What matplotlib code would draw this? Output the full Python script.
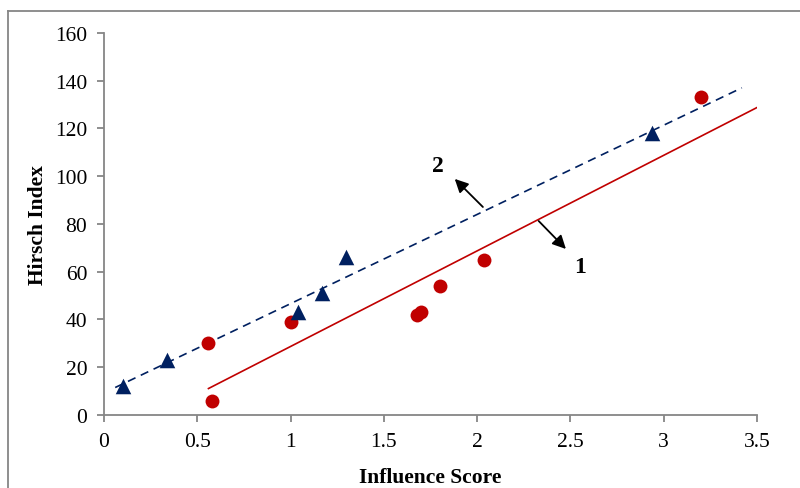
import numpy as np
import matplotlib
matplotlib.use("Agg")
import matplotlib.pyplot as plt
from matplotlib.lines import Line2D

plt.rcParams['font.family'] = ['Liberation Serif', 'DejaVu Serif']

# series 1 (red circles)
x1 = [0.56, 0.58, 1.00, 1.68, 1.70, 1.80, 2.04, 3.20]
y1 = [30, 6, 39, 42, 43, 54, 65, 133]
# series 2 (blue triangles)
x2 = [0.10, 0.34, 1.04, 1.17, 1.30, 2.94]
y2 = [12, 23, 43, 51, 66, 118]

# trend line extents
line1_range = [0.56, 3.5]
line2_range = [0.06, 3.42]

x_ticks = [0, 0.5, 1, 1.5, 2, 2.5, 3, 3.5]
x_labels = ['0', '0.5', '1', '1.5', '2', '2.5', '3', '3.5']
y_ticks = [0, 20, 40, 60, 80, 100, 120, 140, 160]

red = '#C00000'
navy = '#002060'
gray = '#868686'

fig = plt.figure(figsize=(8, 4.89), dpi=100)
ax = fig.add_axes([0.13, 0.1493, 0.816, 0.7812])

p1 = np.polyfit(x1, y1, 1)
p2 = np.polyfit(x2, y2, 1)
xs1 = np.array(line1_range)
xs2 = np.array(line2_range)
ax.plot(xs1, np.polyval(p1, xs1), color=red, lw=1.2, zorder=2)
ax.plot(xs2, np.polyval(p2, xs2), color=navy, lw=1.2, dashes=(5, 3.5), zorder=2)

ax.scatter(x1, y1, s=100, color=red, marker='o', zorder=3, linewidths=0)
ax.scatter(x2, y2, s=125, color=navy, marker='^', zorder=3, linewidths=0)

ax.annotate('', xy=(1.87, 99.7), xytext=(2.042, 86.3),
            arrowprops=dict(arrowstyle='-|>', color='black', lw=1.3, mutation_scale=20))
ax.text(1.79, 104.3, '2', fontsize=17, fontweight='bold', ha='center', va='center')
ax.annotate('', xy=(2.487, 68.7), xytext=(2.32, 82.1),
            arrowprops=dict(arrowstyle='-|>', color='black', lw=1.3, mutation_scale=20))
ax.text(2.55, 62.4, '1', fontsize=17, fontweight='bold', ha='center', va='center')

ax.set_xlim(0, 3.5)
ax.set_ylim(0, 160)
ax.set_xticks(x_ticks)
ax.set_xticklabels(x_labels)
ax.set_yticks(y_ticks)
for s in ['top', 'right']:
    ax.spines[s].set_visible(False)
for s in ['left', 'bottom']:
    ax.spines[s].set_color(gray)
    ax.spines[s].set_linewidth(1.3)
ax.tick_params(axis='both', direction='out', length=5, width=1.3, color=gray,
               labelsize=15.5, labelcolor='black', pad=7)
ax.set_xlabel('Influence Score', fontsize=15.5, fontweight='bold', labelpad=12)
ax.set_ylabel('Hirsch Index', fontsize=15.5, fontweight='bold', labelpad=5)

# outer frame
fig.add_artist(Line2D([8 / 800, 8 / 800], [0, 1 - 12 / 489], color=gray, lw=1.3))
fig.add_artist(Line2D([8 / 800, 1], [1 - 12 / 489, 1 - 12 / 489], color=gray, lw=1.3))

fig.savefig('out.png', dpi=100)
